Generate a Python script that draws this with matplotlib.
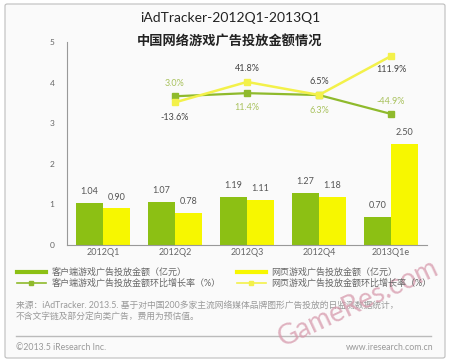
import matplotlib
matplotlib.use("Agg")
import matplotlib.pyplot as plt
import numpy as np
from matplotlib.lines import Line2D
from matplotlib.patches import FancyBboxPatch

plt.rcParams['font.family'] = ['Lato', 'Noto Sans CJK SC', 'DejaVu Sans']

categories = ["2012Q1", "2012Q2", "2012Q3", "2012Q4", "2013Q1e"]
client_amount = [1.04, 1.07, 1.19, 1.27, 0.70]
web_amount = [0.90, 0.78, 1.11, 1.18, 2.50]
growth_categories = ["2012Q2", "2012Q3", "2012Q4", "2013Q1e"]
client_growth = [3.0, 11.4, 6.3, -44.9]
web_growth = [-13.6, 41.8, 6.5, 111.9]
y_ticks = [0, 1, 2, 3, 4, 5]

legend_labels = ["客户端游戏广告投放金额（亿元）", "客户端游戏广告投放金额环比增长率（%）",
                 "网页游戏广告投放金额（亿元）", "网页游戏广告投放金额环比增长率（%）"]

GREEN = "#8cc014"
YELLOW = "#f7f700"
GREEN_LINE = "#8fba2c"
YELLOW_LINE = "#f3f14a"
LABEL_GRAY = "#555555"
GREEN_TEXT = "#a9c25e"

W, H = 451, 362
fig = plt.figure(figsize=(W / 100, H / 100), dpi=100)
fig.patch.set_facecolor("white")

# outer frame
frame = FancyBboxPatch((5 / W, 4 / H), 440 / W, 354 / H, boxstyle="round,pad=0,rounding_size=0.005",
                       transform=fig.transFigure, facecolor="#fafafa", edgecolor="#bdbdbd", lw=0.8,
                       zorder=-10)
fig.patches.append(frame)

ax = fig.add_axes([67 / W, 1 - 245 / H, 360 / W, 203 / H])
ax.set_facecolor("none")
x = np.arange(len(categories))
bw = 0.375
b1 = ax.bar(x - bw / 2, client_amount, bw, color=GREEN, zorder=2)
b2 = ax.bar(x + bw / 2, web_amount, bw, color=YELLOW, zorder=2)
for rect, v in zip(b1, client_amount):
    ax.annotate(f"{v:.2f}", (rect.get_x() + rect.get_width() / 2, v), xytext=(0, 5),
                textcoords="offset points", ha="center", va="bottom", fontsize=6.5, color=LABEL_GRAY)
for rect, v in zip(b2, web_amount):
    ax.annotate(f"{v:.2f}", (rect.get_x() + rect.get_width() / 2, v), xytext=(0, 5),
                textcoords="offset points", ha="center", va="bottom", fontsize=6.5, color=LABEL_GRAY)

ax.set_xlim(-0.5, len(categories) - 0.5)
ax.set_ylim(0, 5)
ax.set_yticks(y_ticks)
ax.set_yticklabels([str(t) for t in y_ticks], fontsize=6, color="#666666")
ax.set_xticks(x)
ax.set_xticklabels(categories, fontsize=6.5, color="#666666")
ax.tick_params(axis="both", length=0, pad=2)
ax.tick_params(axis="y", pad=9)
for s in ["top", "right"]:
    ax.spines[s].set_visible(False)
ax.spines["left"].set_color("#999999")
ax.spines["bottom"].set_color("#999999")
ax.spines["left"].set_linewidth(0.8)
ax.spines["bottom"].set_linewidth(0.8)

ax2 = ax.twinx()
ax2.set_ylim(-400, 150)
ax2.axis("off")
gx = [categories.index(c) for c in growth_categories]
ax2.plot(gx, client_growth, color=GREEN_LINE, lw=1.6, marker="s", ms=5, zorder=3)
ax2.plot(gx, web_growth, color=YELLOW_LINE, lw=1.8, marker="s", ms=5, zorder=4)

client_offsets = [9, -10, -11, 9]
web_offsets = [-11, 10, 10, -10]
for xi, v, off in zip(gx, client_growth, client_offsets):
    ax2.annotate(f"{v:.1f}%", (xi, v), xytext=(0, off), textcoords="offset points",
                 ha="center", va="center", fontsize=6.5, color=GREEN_TEXT)
for xi, v, off in zip(gx, web_growth, web_offsets):
    ax2.annotate(f"{v:.1f}%", (xi, v), xytext=(0, off), textcoords="offset points",
                 ha="center", va="center", fontsize=6.5, color="#444444")

# titles
fig.text(230 / W, 1 - 18 / H, "iAdTracker-2012Q1-2013Q1", ha="center", va="center",
         fontsize=10, color="#222222")
fig.text(230 / W, 1 - 40 / H, "中国网络游戏广告投放金额情况", ha="center", va="center",
         fontsize=9.5, fontweight="bold", color="#222222")

# legend
handles = [Line2D([], [], color=GREEN, lw=3),
           Line2D([], [], color=GREEN_LINE, lw=1.2, marker="s", ms=3),
           Line2D([], [], color=YELLOW, lw=3),
           Line2D([], [], color=YELLOW_LINE, lw=1.2, marker="s", ms=3)]
fig.legend(handles, legend_labels, ncol=2, loc="upper left", bbox_to_anchor=(17 / W, 1 - 268 / H),
           frameon=False, fontsize=6.5, handlelength=3.2, handletextpad=0.6, columnspacing=1.8,
           labelspacing=0.2, labelcolor="#666666", borderaxespad=0, borderpad=0)

# source
fig.text(16 / W, 1 - 305 / H, "来源：iAdTracker. 2013.5. 基于对中国200多家主流网络媒体品牌图形广告投放的日监测数据统计，",
         ha="left", va="center", fontsize=6.3, color="#999999")
fig.text(16 / W, 1 - 316 / H, "不含文字链及部分定向类广告，费用为预估值。",
         ha="left", va="center", fontsize=6.3, color="#999999")
fig.add_artist(Line2D([16 / W, 431 / W], [1 - 336 / H, 1 - 336 / H], color="#bbbbbb", lw=1,
                      transform=fig.transFigure))
fig.text(16 / W, 1 - 348 / H, "©2013.5 iResearch Inc.", ha="left", va="center", fontsize=6.3, color="#999999")
fig.text(433 / W, 1 - 348 / H, "www.iresearch.com.cn", ha="right", va="center", fontsize=6.3, color="#999999")

# watermark
fig.text(358 / W, 1 - 303 / H, "GameRes.com", ha="center", va="center", rotation=25,
         fontsize=20, color="#d79aac", alpha=0.75)

fig.savefig("out.png", dpi=100)
